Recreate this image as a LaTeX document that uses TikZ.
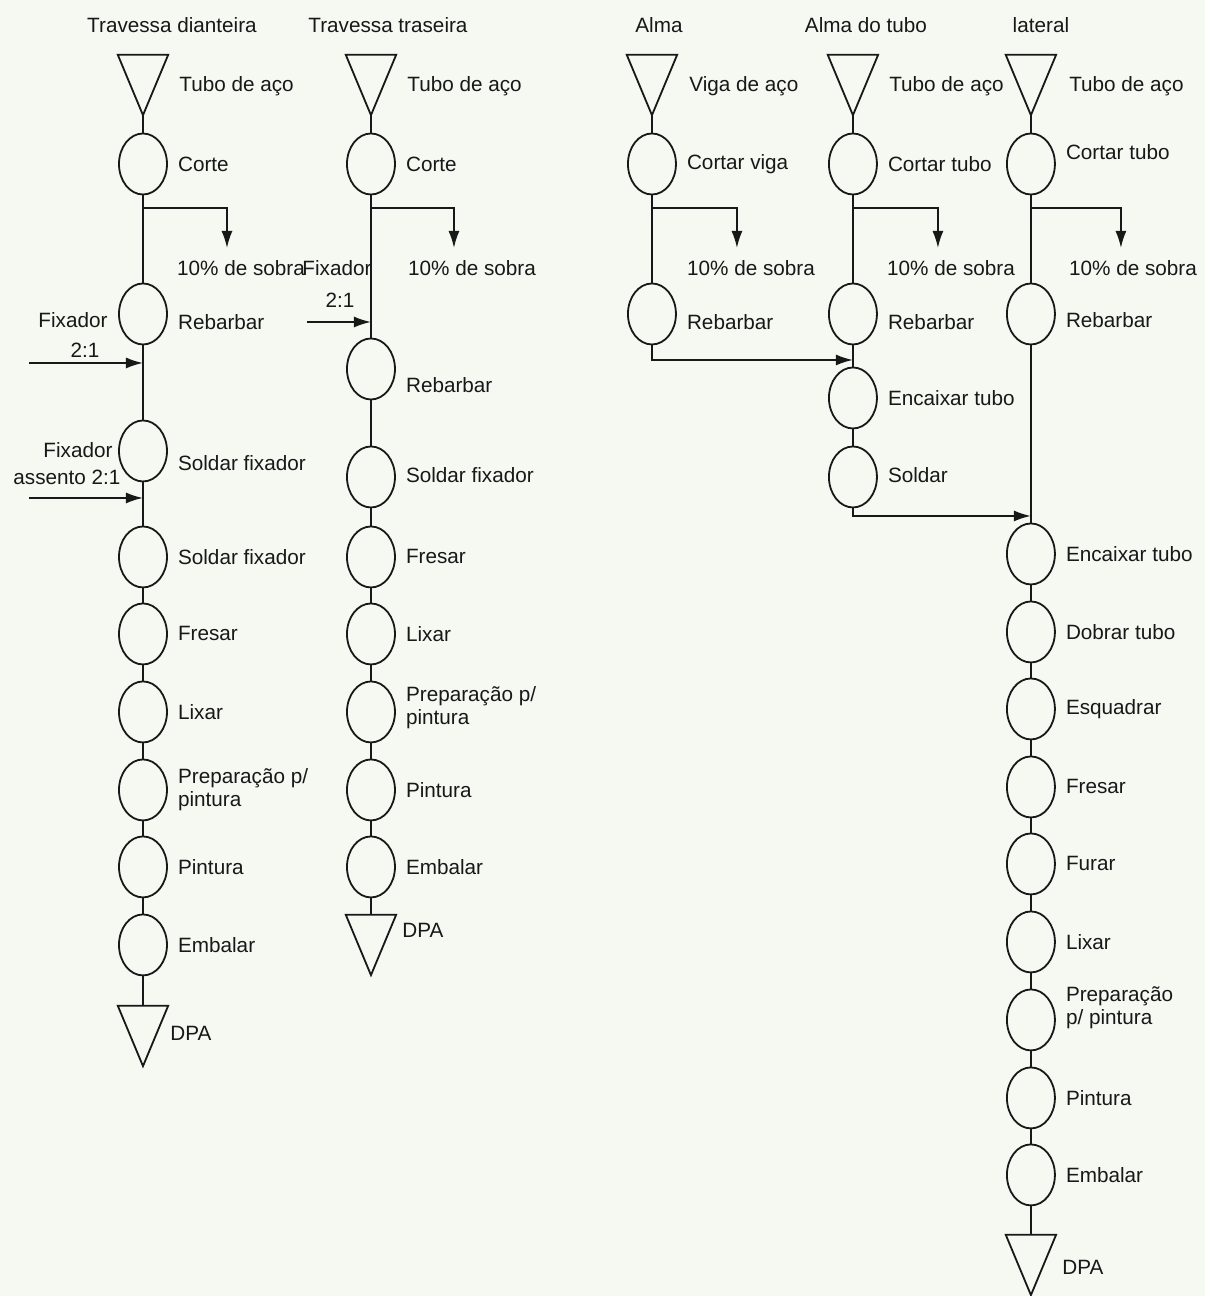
\documentclass[tikz,border=0pt]{standalone}
\usepackage{fontspec}
\setmainfont{Liberation Sans}
\usetikzlibrary{shapes.geometric,arrows.meta,calc}
\definecolor{paper}{RGB}{246,248,242}
\definecolor{ink}{RGB}{24,24,24}
\tikzset{
  flow/.style={draw=ink, line width=1.8pt},
  op/.style={ellipse, draw=ink, line width=1.8pt, minimum width=48pt, minimum height=61pt, inner sep=0pt},
  store/.style={rectangle, inner sep=0pt, minimum width=50pt, minimum height=60pt,
    append after command={\pgfextra{\draw[ink,line width=1.8pt,line join=miter]
      (\tikzlastnode.north west) -- (\tikzlastnode.north east) -- (\tikzlastnode.south) -- cycle;}}},
  lbl/.style={anchor=west, inner sep=0pt, align=left, text=ink,
    font=\fontsize{20.7}{23}\selectfont},
  txt/.style={inner sep=0pt, align=center, text=ink, font=\fontsize{20.7}{23}\selectfont},
  arr/.style={flow, -{Latex[length=17pt,width=11pt]}},
}
% operation circle with its label: name, x, y, text, label dy
\newcommand\opn[5]{\node[op] (#1) at (#2,#3) {};
  \node[lbl] (#1t) at ($(#1.east)+(10,#5)$) {#4};}
% storage triangle with its label: name, x, y, text, label dx, label dy
\newcommand\stn[6]{\node[store] (#1) at (#2,#3) {};
  \node[lbl] (#1t) at ($(#1.east)+(#5,#6)$) {#4};}
\begin{document}
\begin{tikzpicture}[x=1pt,y=-1pt]
\fill[paper] (0,0) rectangle (1205,1296);

% column titles
\node[txt] (h1) at (172,25) {Travessa dianteira};
\node[txt] (h2) at (388,25) {Travessa traseira};
\node[txt] (h3) at (659,25) {Alma};
\node[txt] (h4) at (866,25) {Alma do tubo};
\node[txt] (h5) at (1041,25) {lateral};

% ---------- Travessa dianteira ----------
\stn{t1}{143}{85}{Tubo de aço}{11}{1}
\opn{c1a}{143}{164}{Corte}{0}
\opn{c1b}{143}{314}{Rebarbar}{8}
\opn{c1c}{143}{451}{Soldar fixador}{12}
\opn{c1d}{143}{557}{Soldar fixador}{0}
\opn{c1e}{143}{634}{Fresar}{0}
\opn{c1f}{143}{712}{Lixar}{0}
\opn{c1g}{143}{790}{Preparação p/\\pintura}{0}
\opn{c1h}{143}{867}{Pintura}{0}
\opn{c1i}{143}{945}{Embalar}{0}
\stn{d1}{143}{1036}{DPA}{2}{-3}
\draw[flow] (t1.south) -- (c1a.north);
\draw[flow] (c1a.south) -- (c1b.north);
\draw[flow] (c1b.south) -- (c1c.north);
\draw[flow] (c1c.south) -- (c1d.north);
\draw[flow] (c1d.south) -- (c1e.north);
\draw[flow] (c1e.south) -- (c1f.north);
\draw[flow] (c1f.south) -- (c1g.north);
\draw[flow] (c1g.south) -- (c1h.north);
\draw[flow] (c1h.south) -- (c1i.north);
\draw[flow] (c1i.south) -- (d1.north);
\coordinate (b1) at (143,208);
\coordinate (w1) at (227,248);
\draw[arr] (b1) -| (w1);
\node[lbl] (w1t) at (177,268) {10\% de sobra};
\node[txt] (f1t) at (73,320) {Fixador};
\node[txt] (f1n) at (85,350) {2:1};
\coordinate (f1) at (29,363);
\coordinate (f1e) at (143,363);
\draw[arr] (f1) -- (f1e);
\node[txt] (g1t) at (78,450) {Fixador};
\node[txt] (g1n) at (67,477) {assento 2:1};
\coordinate (g1) at (29,498);
\coordinate (g1e) at (143,498);
\draw[arr] (g1) -- (g1e);

% ---------- Travessa traseira ----------
\stn{t2}{371}{85}{Tubo de aço}{11}{1}
\opn{c2a}{371}{164}{Corte}{0}
\opn{c2b}{371}{369}{Rebarbar}{16}
\opn{c2c}{371}{477}{Soldar fixador}{-2}
\opn{c2d}{371}{557}{Fresar}{0}
\opn{c2e}{371}{634}{Lixar}{0}
\opn{c2f}{371}{712}{Preparação p/\\pintura}{-4}
\opn{c2g}{371}{790}{Pintura}{0}
\opn{c2h}{371}{867}{Embalar}{0}
\stn{d2}{371}{945}{DPA}{6}{-15}
\draw[flow] (t2.south) -- (c2a.north);
\draw[flow] (c2a.south) -- (c2b.north);
\draw[flow] (c2b.south) -- (c2c.north);
\draw[flow] (c2c.south) -- (c2d.north);
\draw[flow] (c2d.south) -- (c2e.north);
\draw[flow] (c2e.south) -- (c2f.north);
\draw[flow] (c2f.south) -- (c2g.north);
\draw[flow] (c2g.south) -- (c2h.north);
\draw[flow] (c2h.south) -- (d2.north);
\coordinate (b2) at (371,208);
\coordinate (w2) at (454,248);
\draw[arr] (b2) -| (w2);
\node[lbl] (w2t) at (408,268) {10\% de sobra};
\node[txt] (f2t) at (337,268) {Fixador};
\node[txt] (f2n) at (340,300) {2:1};
\coordinate (f2) at (307,322);
\coordinate (f2e) at (371,322);
\draw[arr] (f2) -- (f2e);

% ---------- Alma ----------
\stn{t3}{652}{85}{Viga de aço}{12}{1}
\opn{c3a}{652}{164}{Cortar viga}{0}
\opn{c3b}{652}{314}{Rebarbar}{8}
\draw[flow] (t3.south) -- (c3a.north);
\draw[flow] (c3a.south) -- (c3b.north);
\coordinate (b3) at (652,208);
\coordinate (w3) at (737,248);
\draw[arr] (b3) -| (w3);
\node[lbl] (w3t) at (687,268) {10\% de sobra};

% ---------- Alma do tubo ----------
\stn{t4}{853}{85}{Tubo de aço}{11}{1}
\opn{c4a}{853}{164}{Cortar tubo}{0}
\opn{c4b}{853}{314}{Rebarbar}{8}
\opn{c4c}{853}{398}{Encaixar tubo}{0}
\opn{c4d}{853}{477}{Soldar}{-2}
\draw[flow] (t4.south) -- (c4a.north);
\draw[flow] (c4a.south) -- (c4b.north);
\draw[flow] (c4b.south) -- (c4c.north);
\draw[flow] (c4c.south) -- (c4d.north);
\coordinate (b4) at (853,208);
\coordinate (w4) at (938,248);
\draw[arr] (b4) -| (w4);
\node[lbl] (w4t) at (887,268) {10\% de sobra};
\coordinate (m1) at (853,360);
\draw[arr] (c3b.south) |- (m1);

% ---------- lateral ----------
\stn{t5}{1031}{85}{Tubo de aço}{13}{1}
\opn{c5a}{1031}{164}{Cortar tubo}{-12}
\opn{c5b}{1031}{314}{Rebarbar}{6}
\opn{c5c}{1031}{554}{Encaixar tubo}{0}
\opn{c5d}{1031}{632}{Dobrar tubo}{0}
\opn{c5e}{1031}{709}{Esquadrar}{0}
\opn{c5f}{1031}{787}{Fresar}{0}
\opn{c5g}{1031}{864}{Furar}{0}
\opn{c5h}{1031}{942}{Lixar}{0}
\opn{c5i}{1031}{1020}{Preparação\\p/ pintura}{-12}
\opn{c5j}{1031}{1098}{Pintura}{0}
\opn{c5k}{1031}{1175}{Embalar}{0}
\stn{d5}{1031}{1265}{DPA}{6}{2}
\draw[flow] (t5.south) -- (c5a.north);
\draw[flow] (c5a.south) -- (c5b.north);
\draw[flow] (c5b.south) -- (c5c.north);
\draw[flow] (c5c.south) -- (c5d.north);
\draw[flow] (c5d.south) -- (c5e.north);
\draw[flow] (c5e.south) -- (c5f.north);
\draw[flow] (c5f.south) -- (c5g.north);
\draw[flow] (c5g.south) -- (c5h.north);
\draw[flow] (c5h.south) -- (c5i.north);
\draw[flow] (c5i.south) -- (c5j.north);
\draw[flow] (c5j.south) -- (c5k.north);
\draw[flow] (c5k.south) -- (d5.north);
\coordinate (b5) at (1031,208);
\coordinate (w5) at (1121,248);
\draw[arr] (b5) -| (w5);
\node[lbl] (w5t) at (1069,268) {10\% de sobra};
\coordinate (m2) at (1031,516);
\draw[arr] (c4d.south) |- (m2);
\end{tikzpicture}
\end{document}
